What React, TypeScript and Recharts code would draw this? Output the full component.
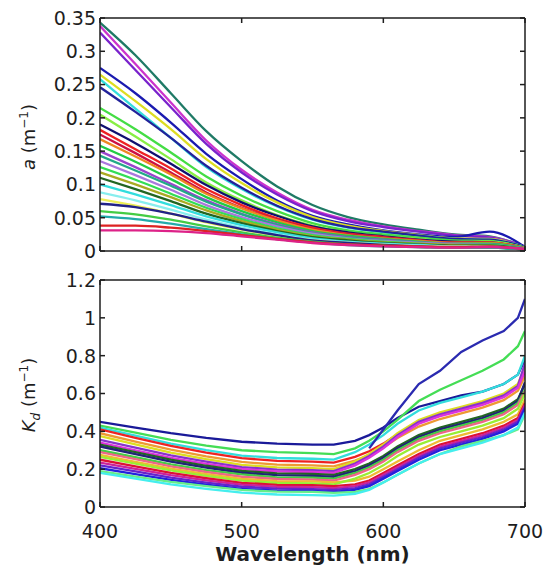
import React from 'react';
import { LineChart, Line, XAxis, YAxis, Label } from 'recharts';

// absorption spectra, a (1/m)
const wavelengthsA = [400, 425, 450, 475, 500, 525, 550, 575, 600, 625, 650, 675, 700];

const absorption = [
  [0.343, 0.294, 0.237, 0.180, 0.135, 0.097, 0.069, 0.051, 0.040, 0.032, 0.025, 0.022, 0.006],
  [0.338, 0.281, 0.223, 0.166, 0.122, 0.088, 0.062, 0.047, 0.037, 0.030, 0.024, 0.021, 0.007],
  [0.328, 0.272, 0.216, 0.161, 0.118, 0.085, 0.060, 0.045, 0.036, 0.029, 0.023, 0.020, 0.007],
  [0.275, 0.237, 0.193, 0.146, 0.108, 0.076, 0.053, 0.040, 0.031, 0.025, 0.021, 0.029, 0.006],
  [0.265, 0.225, 0.183, 0.138, 0.102, 0.073, 0.051, 0.038, 0.030, 0.024, 0.019, 0.018, 0.006],
  [0.258, 0.214, 0.170, 0.126, 0.093, 0.067, 0.047, 0.035, 0.028, 0.023, 0.018, 0.017, 0.006],
  [0.246, 0.209, 0.170, 0.128, 0.095, 0.068, 0.048, 0.036, 0.029, 0.023, 0.018, 0.017, 0.006],
  [0.215, 0.183, 0.148, 0.112, 0.083, 0.060, 0.042, 0.031, 0.025, 0.020, 0.016, 0.015, 0.005],
  [0.205, 0.172, 0.138, 0.103, 0.076, 0.054, 0.038, 0.028, 0.022, 0.018, 0.014, 0.014, 0.005],
  [0.190, 0.162, 0.131, 0.099, 0.073, 0.053, 0.037, 0.028, 0.022, 0.017, 0.014, 0.013, 0.004],
  [0.182, 0.153, 0.124, 0.093, 0.069, 0.049, 0.035, 0.026, 0.021, 0.016, 0.013, 0.013, 0.004],
  [0.175, 0.147, 0.118, 0.088, 0.065, 0.047, 0.033, 0.025, 0.020, 0.016, 0.012, 0.012, 0.004],
  [0.168, 0.142, 0.115, 0.086, 0.064, 0.046, 0.032, 0.024, 0.019, 0.015, 0.012, 0.012, 0.004],
  [0.158, 0.134, 0.108, 0.081, 0.060, 0.043, 0.030, 0.023, 0.018, 0.014, 0.011, 0.011, 0.004],
  [0.150, 0.126, 0.101, 0.076, 0.056, 0.040, 0.028, 0.021, 0.017, 0.013, 0.011, 0.010, 0.004],
  [0.143, 0.121, 0.098, 0.074, 0.055, 0.039, 0.027, 0.020, 0.016, 0.013, 0.010, 0.010, 0.003],
  [0.135, 0.114, 0.092, 0.069, 0.051, 0.037, 0.026, 0.019, 0.015, 0.012, 0.010, 0.009, 0.003],
  [0.126, 0.107, 0.086, 0.065, 0.048, 0.034, 0.024, 0.018, 0.014, 0.011, 0.009, 0.009, 0.003],
  [0.118, 0.100, 0.081, 0.061, 0.045, 0.032, 0.022, 0.017, 0.013, 0.011, 0.009, 0.008, 0.003],
  [0.110, 0.093, 0.075, 0.056, 0.042, 0.030, 0.021, 0.016, 0.012, 0.010, 0.008, 0.008, 0.003],
  [0.100, 0.085, 0.069, 0.052, 0.039, 0.028, 0.019, 0.014, 0.011, 0.009, 0.007, 0.007, 0.003],
  [0.088, 0.076, 0.062, 0.047, 0.035, 0.025, 0.017, 0.013, 0.010, 0.008, 0.007, 0.006, 0.003],
  [0.078, 0.068, 0.056, 0.043, 0.032, 0.023, 0.016, 0.012, 0.009, 0.007, 0.006, 0.006, 0.002],
  [0.071, 0.066, 0.056, 0.044, 0.033, 0.024, 0.016, 0.012, 0.009, 0.007, 0.005, 0.005, 0.002],
  [0.060, 0.055, 0.047, 0.037, 0.028, 0.020, 0.014, 0.010, 0.008, 0.006, 0.005, 0.005, 0.002],
  [0.052, 0.048, 0.041, 0.033, 0.025, 0.018, 0.013, 0.009, 0.007, 0.006, 0.005, 0.005, 0.002],
  [0.038, 0.038, 0.035, 0.030, 0.024, 0.018, 0.013, 0.010, 0.008, 0.007, 0.006, 0.007, 0.003],
  [0.031, 0.031, 0.030, 0.027, 0.022, 0.017, 0.012, 0.009, 0.007, 0.006, 0.005, 0.006, 0.003],
];

const absorptionColors = [
  '#1f7a66', '#cc33cc', '#7a22cc', '#1a1ab0', '#dddd22', '#33dddd', '#22229a',
  '#44dd44', '#88ee44', '#101070', '#ee2222', '#cc1144', '#ee8822', '#22cc44',
  '#9944cc', '#22aa88', '#aa77dd', '#33dd55', '#aaaa22', '#226622', '#33dddd',
  '#88eeee', '#eeee55', '#222288', '#44cc44', '#22aaaa', '#dd2222', '#dd2288',
];

// diffuse attenuation, Kd (1/m)
const wavelengthsKd = [400, 425, 450, 475, 500, 525, 550, 565, 580, 590, 600, 610, 625, 640, 655, 670, 685, 695, 700];

const attenuation: (number | null)[][] = [
  [0.45, 0.42, 0.39, 0.365, 0.345, 0.335, 0.33, 0.33, 0.35, 0.38, 0.42, 0.47, 0.53, 0.56, 0.59, 0.61, 0.65, 0.70, 0.78],
  [0.43, 0.393, 0.355, 0.325, 0.30, 0.29, 0.285, 0.28, 0.31, 0.35, 0.40, 0.46, 0.56, 0.62, 0.67, 0.72, 0.78, 0.85, 0.93],
  [0.42, 0.377, 0.335, 0.301, 0.272, 0.259, 0.255, 0.25, 0.29, 0.33, 0.38, 0.44, 0.51, 0.55, 0.58, 0.61, 0.65, 0.70, 0.80],
  [0.41, 0.366, 0.323, 0.288, 0.258, 0.244, 0.24, 0.235, 0.265, 0.295, 0.335, 0.385, 0.445, 0.485, 0.515, 0.545, 0.585, 0.635, 0.715],
  [0.39, 0.346, 0.303, 0.268, 0.238, 0.224, 0.22, 0.215, 0.245, 0.275, 0.315, 0.365, 0.425, 0.465, 0.495, 0.525, 0.565, 0.615, 0.69],
  [0.375, 0.331, 0.288, 0.253, 0.223, 0.209, 0.205, 0.20, 0.24, 0.28, 0.33, 0.39, 0.46, 0.50, 0.53, 0.56, 0.60, 0.65, 0.74],
  [0.355, 0.314, 0.273, 0.24, 0.211, 0.198, 0.195, 0.19, 0.23, 0.27, 0.32, 0.38, 0.45, 0.49, 0.52, 0.55, 0.59, 0.64, 0.76],
  [0.34, 0.30, 0.26, 0.228, 0.201, 0.188, 0.185, 0.18, 0.22, 0.26, 0.31, 0.37, 0.44, 0.48, 0.51, 0.54, 0.58, 0.63, 0.72],
  [0.33, 0.29, 0.25, 0.218, 0.191, 0.178, 0.175, 0.17, 0.20, 0.23, 0.27, 0.32, 0.38, 0.42, 0.45, 0.48, 0.52, 0.57, 0.65],
  [0.32, 0.28, 0.24, 0.208, 0.181, 0.168, 0.165, 0.16, 0.19, 0.22, 0.26, 0.31, 0.37, 0.41, 0.44, 0.47, 0.51, 0.56, 0.66],
  [0.30, 0.263, 0.225, 0.195, 0.172, 0.157, 0.155, 0.15, 0.18, 0.21, 0.25, 0.30, 0.36, 0.40, 0.43, 0.46, 0.50, 0.55, 0.62],
  [0.29, 0.253, 0.215, 0.185, 0.16, 0.148, 0.145, 0.14, 0.17, 0.20, 0.24, 0.29, 0.35, 0.39, 0.42, 0.45, 0.49, 0.54, 0.61],
  [0.275, 0.239, 0.203, 0.174, 0.149, 0.137, 0.135, 0.13, 0.14, 0.16, 0.20, 0.24, 0.30, 0.35, 0.38, 0.41, 0.45, 0.49, 0.57],
  [0.265, 0.229, 0.193, 0.164, 0.139, 0.127, 0.125, 0.12, 0.15, 0.18, 0.22, 0.27, 0.33, 0.37, 0.40, 0.43, 0.47, 0.52, 0.60],
  [0.25, 0.215, 0.18, 0.152, 0.128, 0.117, 0.115, 0.11, 0.12, 0.14, 0.18, 0.22, 0.28, 0.33, 0.36, 0.39, 0.43, 0.47, 0.55],
  [0.235, 0.201, 0.168, 0.141, 0.118, 0.107, 0.105, 0.10, 0.11, 0.13, 0.17, 0.21, 0.27, 0.32, 0.35, 0.38, 0.42, 0.46, 0.54],
  [0.22, 0.188, 0.155, 0.129, 0.107, 0.097, 0.095, 0.09, 0.10, 0.12, 0.16, 0.20, 0.26, 0.31, 0.34, 0.37, 0.41, 0.45, 0.53],
  [0.205, 0.174, 0.143, 0.118, 0.096, 0.086, 0.085, 0.08, 0.09, 0.11, 0.15, 0.19, 0.25, 0.30, 0.33, 0.36, 0.40, 0.44, 0.52],
  [0.19, 0.161, 0.133, 0.11, 0.09, 0.081, 0.08, 0.075, 0.08, 0.095, 0.13, 0.17, 0.23, 0.28, 0.32, 0.35, 0.38, 0.41, 0.49],
  [0.18, 0.15, 0.12, 0.096, 0.076, 0.066, 0.063, 0.06, 0.07, 0.09, 0.13, 0.17, 0.23, 0.28, 0.31, 0.34, 0.38, 0.42, 0.50],
  [null, null, null, null, null, null, null, null, null, 0.31, 0.41, 0.51, 0.65, 0.72, 0.82, 0.88, 0.93, 1.0, 1.1],
];

const attenuationColors = [
  '#1a1a99', '#44dd55', '#33dddd', '#ee2222', '#ee9933', '#dddd22', '#8833cc',
  '#dd33dd', '#226622', '#222277', '#44cc44', '#ee6688', '#eebb33', '#99ee33',
  '#dd1133', '#cc2299', '#6622cc', '#2222dd', '#66ee88', '#44eeee', '#2a2ab0',
];

const aTicks = [0, 0.05, 0.1, 0.15, 0.2, 0.25, 0.3, 0.35];
const kdTicks = [0, 0.2, 0.4, 0.6, 0.8, 1, 1.2];
const xTicks = [400, 500, 600, 700];

const INK = '#1e1e1e';
const PLOT_LEFT = 100;
const PLOT_RIGHT = 525;
const WIDTH = 548;

function buildRows(wl: number[], series: (number | null)[][]) {
  return wl.map((w, i) => {
    const row: Record<string, number | null> = { wl: w };
    series.forEach((s, j) => {
      row['s' + j] = s[i];
    });
    return row;
  });
}

const aRows = buildRows(wavelengthsA, absorption);
const kdRows = buildRows(wavelengthsKd, attenuation);

const leftTick = (props: any) => (
  <g>
    <line x1={PLOT_LEFT} x2={PLOT_LEFT + 5} y1={props.y} y2={props.y} stroke={INK} strokeWidth={1.5} />
    <text x={PLOT_LEFT - 4} y={props.y} dy="0.36em" textAnchor="end" fontSize={19} fill={INK}>
      {String(props.payload.value)}
    </text>
  </g>
);

const rightTick = (props: any) => (
  <line x1={PLOT_RIGHT - 5} x2={PLOT_RIGHT} y1={props.y} y2={props.y} stroke={INK} strokeWidth={1.5} />
);

const topTick = (plotTop: number) => (props: any) => (
  <line x1={props.x} x2={props.x} y1={plotTop} y2={plotTop + 5} stroke={INK} strokeWidth={1.5} />
);

const bottomTick = (plotBottom: number, withText: boolean) => (props: any) => (
  <g>
    <line x1={props.x} x2={props.x} y1={plotBottom} y2={plotBottom - 5} stroke={INK} strokeWidth={1.5} />
    {withText && (
      <text x={props.x} y={plotBottom + 31} textAnchor="middle" fontSize={19} fill={INK}>
        {String(props.payload.value)}
      </text>
    )}
  </g>
);

interface PanelProps {
  rows: Record<string, number | null>[];
  colors: string[];
  height: number;
  plotTop: number;
  plotBottom: number;
  yMax: number;
  yTicks: number[];
  curve: 'monotone' | 'linear';
  yTitle: React.ReactNode;
  yTitleCenter: number;
  xTitle?: string;
}

function Panel({ rows, colors, height, plotTop, plotBottom, yMax, yTicks, curve, yTitle, yTitleCenter, xTitle }: PanelProps) {
  // the top / right / bottom axes are 1px thick boxes, so margins give up that pixel
  return (
    <LineChart
      width={WIDTH}
      height={height}
      data={rows}
      margin={{ top: plotTop - 1, right: WIDTH - PLOT_RIGHT - 1, bottom: height - plotBottom - 1, left: 0 }}
    >
      <XAxis
        dataKey="wl"
        type="number"
        domain={[400, 700]}
        ticks={xTicks}
        height={1}
        allowDataOverflow
        stroke={INK}
        strokeWidth={1.5}
        tickLine={false}
        tick={bottomTick(plotBottom, !!xTitle)}
      >
        {xTitle && (
          <Label
            content={() => (
              <text x={(PLOT_LEFT + PLOT_RIGHT) / 2} y={plotBottom + 54} textAnchor="middle" fontSize={20} fontWeight="bold" fill={INK}>
                {xTitle}
              </text>
            )}
          />
        )}
      </XAxis>
      <XAxis
        xAxisId="top"
        orientation="top"
        dataKey="wl"
        type="number"
        domain={[400, 700]}
        ticks={xTicks}
        height={1}
        allowDataOverflow
        stroke={INK}
        strokeWidth={1.5}
        tickLine={false}
        tick={topTick(plotTop)}
      />
      <YAxis
        type="number"
        domain={[0, yMax]}
        ticks={yTicks}
        width={PLOT_LEFT}
        allowDataOverflow
        stroke={INK}
        strokeWidth={1.5}
        tickLine={false}
        tick={leftTick}
      >
        <Label
          content={() => (
            <text transform={`translate(35, ${yTitleCenter}) rotate(-90)`} textAnchor="middle" fontSize={18} fill={INK}>
              {yTitle}
            </text>
          )}
        />
      </YAxis>
      <YAxis
        yAxisId="right"
        orientation="right"
        type="number"
        domain={[0, yMax]}
        ticks={yTicks}
        width={1}
        allowDataOverflow
        stroke={INK}
        strokeWidth={1.5}
        tickLine={false}
        tick={rightTick}
      />
      {colors.map((c, j) => (
        <Line
          key={j}
          dataKey={'s' + j}
          type={curve}
          stroke={c}
          strokeWidth={2.3}
          dot={false}
          activeDot={false}
          isAnimationActive={false}
        />
      ))}
    </LineChart>
  );
}

export default function App() {
  return (
    <div
      style={{
        position: 'absolute',
        left: 0,
        top: 0,
        width: WIDTH,
        height: 570,
        background: '#fff',
        fontFamily: '"DejaVu Sans", sans-serif',
      }}
    >
      <Panel
        rows={aRows}
        colors={absorptionColors}
        height={265}
        plotTop={18}
        plotBottom={251}
        yMax={0.35}
        yTicks={aTicks}
        curve="monotone"
        yTitleCenter={137}
        yTitle={
          <>
            <tspan fontStyle="italic">a</tspan>
            <tspan> (m</tspan>
            <tspan dy={-7} fontSize={12}>−1</tspan>
            <tspan dy={7}>)</tspan>
          </>
        }
      />
      <div style={{ position: 'absolute', left: 0, top: 265 }}>
        <Panel
          rows={kdRows}
          colors={attenuationColors}
          height={305}
          plotTop={15}
          plotBottom={242}
          yMax={1.2}
          yTicks={kdTicks}
          curve="linear"
          yTitleCenter={130}
          xTitle="Wavelength (nm)"
          yTitle={
            <>
              <tspan fontStyle="italic">K</tspan>
              <tspan dy={5} fontSize={12} fontStyle="italic">d</tspan>
              <tspan dy={-5}> (m</tspan>
              <tspan dy={-7} fontSize={12}>−1</tspan>
              <tspan dy={7}>)</tspan>
            </>
          }
        />
      </div>
    </div>
  );
}
